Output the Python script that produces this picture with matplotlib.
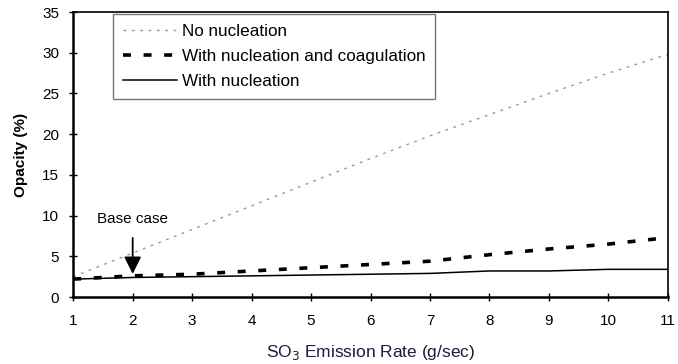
import matplotlib
matplotlib.use("Agg")
import matplotlib.pyplot as plt

plt.rcParams['font.family'] = ['Liberation Sans', 'DejaVu Sans']

# emission rate (g/sec)
rate = [1, 2, 3, 4, 5, 6, 7, 8, 9, 10, 11]
# opacity (%)
no_nucl = [2.5, 5.4, 8.3, 11.2, 14.1, 17.0, 19.8, 22.4, 25.0, 27.5, 29.8]
nucl_coag = [2.2, 2.6, 2.8, 3.2, 3.6, 4.0, 4.4, 5.2, 5.9, 6.5, 7.3]
nucl = [2.2, 2.4, 2.5, 2.6, 2.7, 2.8, 2.9, 3.2, 3.2, 3.4, 3.4]

labels = ['No nucleation', 'With nucleation and coagulation', 'With nucleation']

fig = plt.figure(figsize=(6.78, 3.64), dpi=100)
ax = fig.add_axes([0.108, 0.184, 0.877, 0.783])

ax.plot(rate, no_nucl, color='#999999', lw=1.0, ls=(0, (2, 4)), label=labels[0])
ax.plot(rate, nucl_coag, color='black', lw=2.6, ls=(0, (2.2, 3.5)), label=labels[1])
ax.plot(rate, nucl, color='black', lw=1.1, label=labels[2])

ax.set_xlim(1, 11)
ax.set_ylim(0, 35)
ax.set_xticks(rate)
ax.set_yticks(range(0, 36, 5))
ax.tick_params(direction='inout', length=6, width=1, labelsize=11)
ax.tick_params(axis='x', pad=9)
ax.tick_params(axis='y', pad=7)
for s in ax.spines.values():
    s.set_linewidth(1.2)
ax.spines['left'].set_linewidth(1.8)
ax.spines['bottom'].set_linewidth(1.8)

ax.set_ylabel('Opacity (%)', fontsize=11, fontweight='bold', labelpad=10)
ax.set_xlabel('SO$_3$ Emission Rate (g/sec)', fontsize=12.5, color='#1c1c3c',
              labelpad=11)

# base case marker
ax.annotate('', xy=(2, 2.5), xytext=(2, 7.6),
            arrowprops=dict(arrowstyle='-|>', color='black', lw=1.3,
                            mutation_scale=26))
ax.text(2, 9.6, 'Base case', ha='center', va='center', fontsize=11)

leg = ax.legend(loc='upper left', bbox_to_anchor=(0.053, 1.022), frameon=True,
                fancybox=False, edgecolor='#555555', fontsize=12.3,
                handlelength=3.2, handletextpad=0.3, borderpad=0.55,
                labelspacing=0.6)
leg.get_frame().set_linewidth(1.0)

fig.savefig('out.png', dpi=100)
